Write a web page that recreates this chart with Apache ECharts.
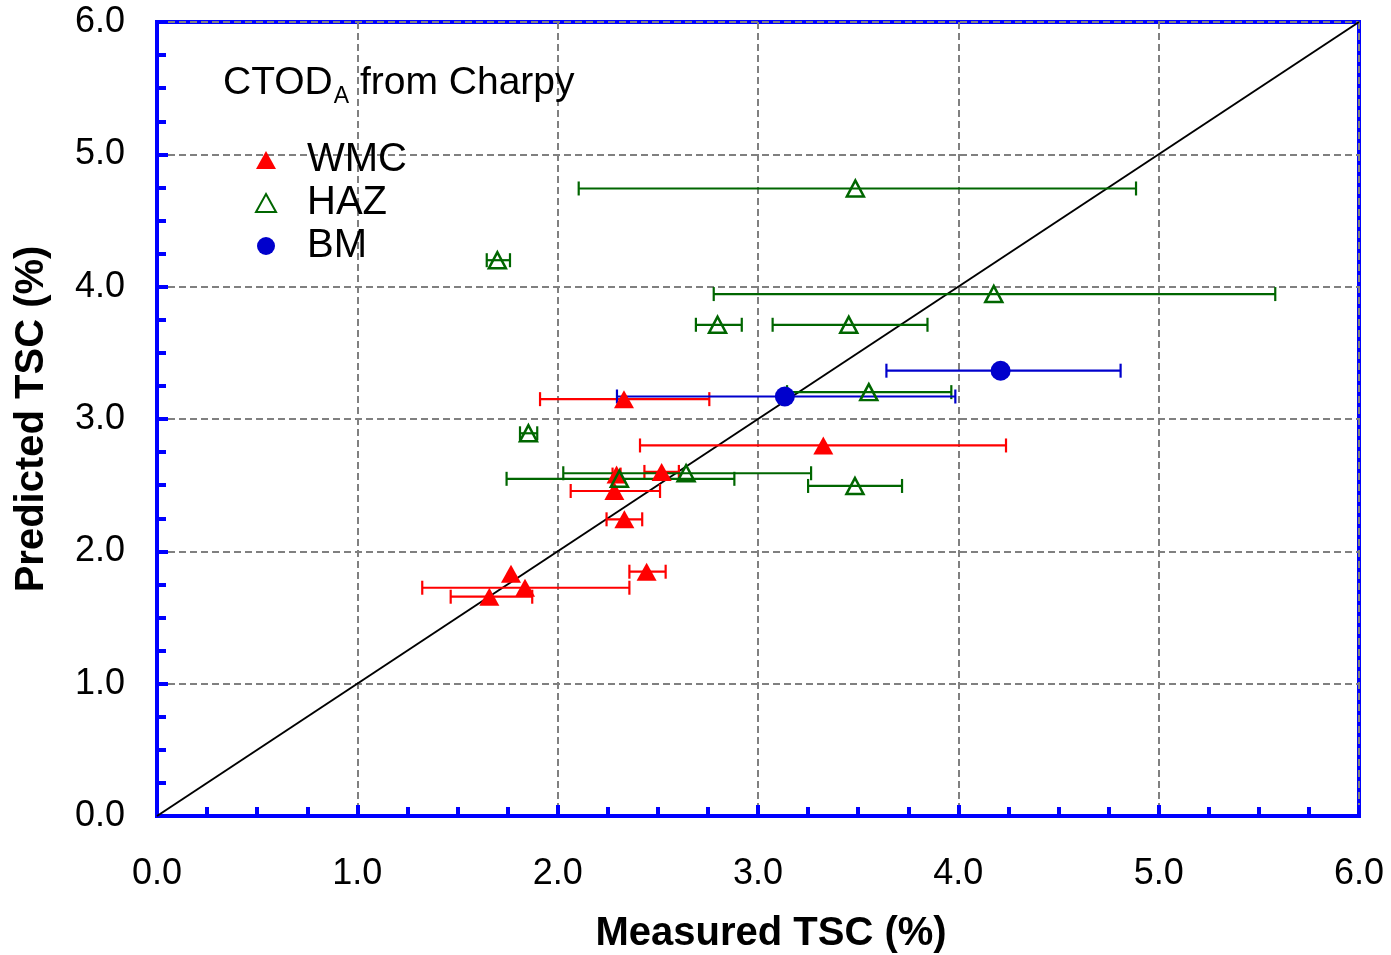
<!DOCTYPE html>
<html>
<head>
<meta charset="utf-8">
<script src="https://cdn.jsdelivr.net/npm/echarts@6/dist/echarts.min.js"></script>
<style>
  html, body { margin: 0; padding: 0; background: #fff; }
  #main { width: 1391px; height: 955px; }
</style>
</head>
<body>
<div id="main"></div>
<script>
// [measured, predicted, barLow, barHigh]
var wmcData = [
    [2.331, 3.15, 1.912, 2.757],
    [3.326, 2.80, 2.411, 4.238],
    [2.294, 2.58, 2.274, 2.314],
    [2.519, 2.60, 2.433, 2.605],
    [2.283, 2.456, 2.065, 2.511],
    [2.333, 2.242, 2.244, 2.422],
    [2.444, 1.846, 2.358, 2.539],
    [1.767, 1.83, 1.767, 1.767],
    [1.837, 1.725, 1.324, 2.358],
    [1.659, 1.657, 1.466, 1.873]
];
var hazData = [
    [3.486, 4.742, 2.105, 4.887],
    [1.699, 4.20, 1.646, 1.762],
    [4.177, 3.944, 2.779, 5.582],
    [2.798, 3.712, 2.69, 2.919],
    [3.453, 3.712, 3.073, 3.846],
    [3.553, 3.203, 3.145, 3.965],
    [1.854, 2.892, 1.812, 1.898],
    [2.641, 2.59, 2.028, 3.265],
    [2.308, 2.548, 1.745, 2.882],
    [3.484, 2.494, 3.25, 3.719]
];
var bmData = [
    [3.134, 3.17, 2.296, 3.985],
    [4.211, 3.365, 3.641, 4.810]
];
var diagonal = [[0, 0], [6, 6]];
var axisMin = 0;
var axisMax = 6;

var RED = '#ff0000';
var GREEN = '#006600';
var BLUE = '#0000cc';
var FONT = 'Liberation Sans, Arial, sans-serif';

function errorBars(data, color) {
    return {
        type: 'custom',
        silent: true,
        z: 2,
        data: data,
        encode: { x: [0, 2, 3], y: 1 },
        renderItem: function(params, api) {
            var y = api.value(1);
            var lo = api.coord([api.value(2), y]);
            var hi = api.coord([api.value(3), y]);
            var h = 7;
            var style = { stroke: color, lineWidth: 2.2 };
            if (hi[0] - lo[0] < 1) {
                return null;
            }
            return {
                type: 'group',
                children: [
                    { type: 'line', shape: { x1: lo[0], y1: lo[1], x2: hi[0], y2: hi[1] }, style: style },
                    { type: 'line', shape: { x1: lo[0], y1: lo[1] - h, x2: lo[0], y2: lo[1] + h }, style: style },
                    { type: 'line', shape: { x1: hi[0], y1: hi[1] - h, x2: hi[0], y2: hi[1] + h }, style: style }
                ]
            };
        }
    };
}

function axisCommon(name, nameGap) {
    return {
        type: 'value',
        min: axisMin,
        max: axisMax,
        interval: 1,
        name: name,
        nameLocation: 'middle',
        nameGap: nameGap,
        nameTextStyle: {
            fontFamily: FONT,
            fontWeight: 'bold',
            fontSize: 40,
            color: '#000'
        },
        axisLine: { show: true, lineStyle: { color: '#0000ff', width: 4 } },
        axisTick: { show: true, inside: true, length: 11, lineStyle: { color: '#0000ff', width: 4 } },
        minorTick: { show: true, splitNumber: 4, length: 9, lineStyle: { color: '#0000ff', width: 4 } },
        axisLabel: {
            fontFamily: FONT,
            fontSize: 36,
            color: '#000',
            formatter: function(v) { return v.toFixed(1); }
        },
        splitLine: { show: true, lineStyle: { color: '#808080', width: 2, type: [7, 4] } },
        minorSplitLine: { show: false }
    };
}

var chart = echarts.init(document.getElementById('main'));

var xAxis = axisCommon('Measured TSC (%)', 98);
xAxis.axisLabel.margin = 40;
xAxis.nameTextStyle.padding = [0, 0, 0, 26];
var yAxis = axisCommon('Predicted TSC (%)', 105);
yAxis.axisLabel.margin = 32;

var option = {
    animation: false,
    backgroundColor: '#fff',
    grid: {
        left: 157, right: 32, top: 22, bottom: 139,
        outerBoundsMode: 'none',
        containLabel: false,
        show: true, borderColor: '#0000ff', borderWidth: 4, backgroundColor: 'transparent'
    },
    title: {
        text: '{a|CTOD}{s|A}{a| from Charpy}',
        left: 223,
        top: 60,
        padding: 0,
        textStyle: {
            fontWeight: 'normal',
            rich: {
                a: { fontFamily: FONT, fontWeight: 'normal', fontSize: 39, color: '#000', lineHeight: 46 },
                s: { fontFamily: FONT, fontWeight: 'normal', fontSize: 23, color: '#000', lineHeight: 23, verticalAlign: 'top', padding: [25, 0, 0, 1] }
            }
        }
    },
    legend: {
        orient: 'vertical',
        left: 255,
        top: 140,
        padding: 0,
        itemGap: 3,
        itemWidth: 20,
        itemHeight: 18,
        data: ['WMC', 'HAZ', 'BM'],
        textStyle: {
            fontFamily: FONT,
            fontSize: 40,
            color: '#000',
            padding: [0, 0, 0, 26]
        }
    },
    xAxis: xAxis,
    yAxis: yAxis,
    series: [
        {
            type: 'line',
            data: diagonal,
            symbol: 'none',
            silent: true,
            z: 1,
            lineStyle: { color: '#000', width: 2 }
        },
        errorBars(wmcData, RED),
        errorBars(hazData, GREEN),
        errorBars(bmData, BLUE),
        {
            name: 'WMC',
            type: 'scatter',
            data: wmcData,
            z: 3,
            symbol: 'triangle',
            symbolSize: [20, 18],
            itemStyle: { color: RED, opacity: 1 }
        },
        {
            name: 'HAZ',
            type: 'scatter',
            data: hazData,
            z: 3,
            symbol: 'triangle',
            symbolSize: [17, 16],
            itemStyle: { color: 'rgba(255,255,255,0)', borderColor: GREEN, borderWidth: 2.5, opacity: 1 }
        },
        {
            name: 'BM',
            type: 'scatter',
            data: bmData,
            z: 3,
            symbol: 'circle',
            symbolSize: 20,
            itemStyle: { color: BLUE, opacity: 1 }
        }
    ]
};

chart.setOption(option);
</script>
</body>
</html>
